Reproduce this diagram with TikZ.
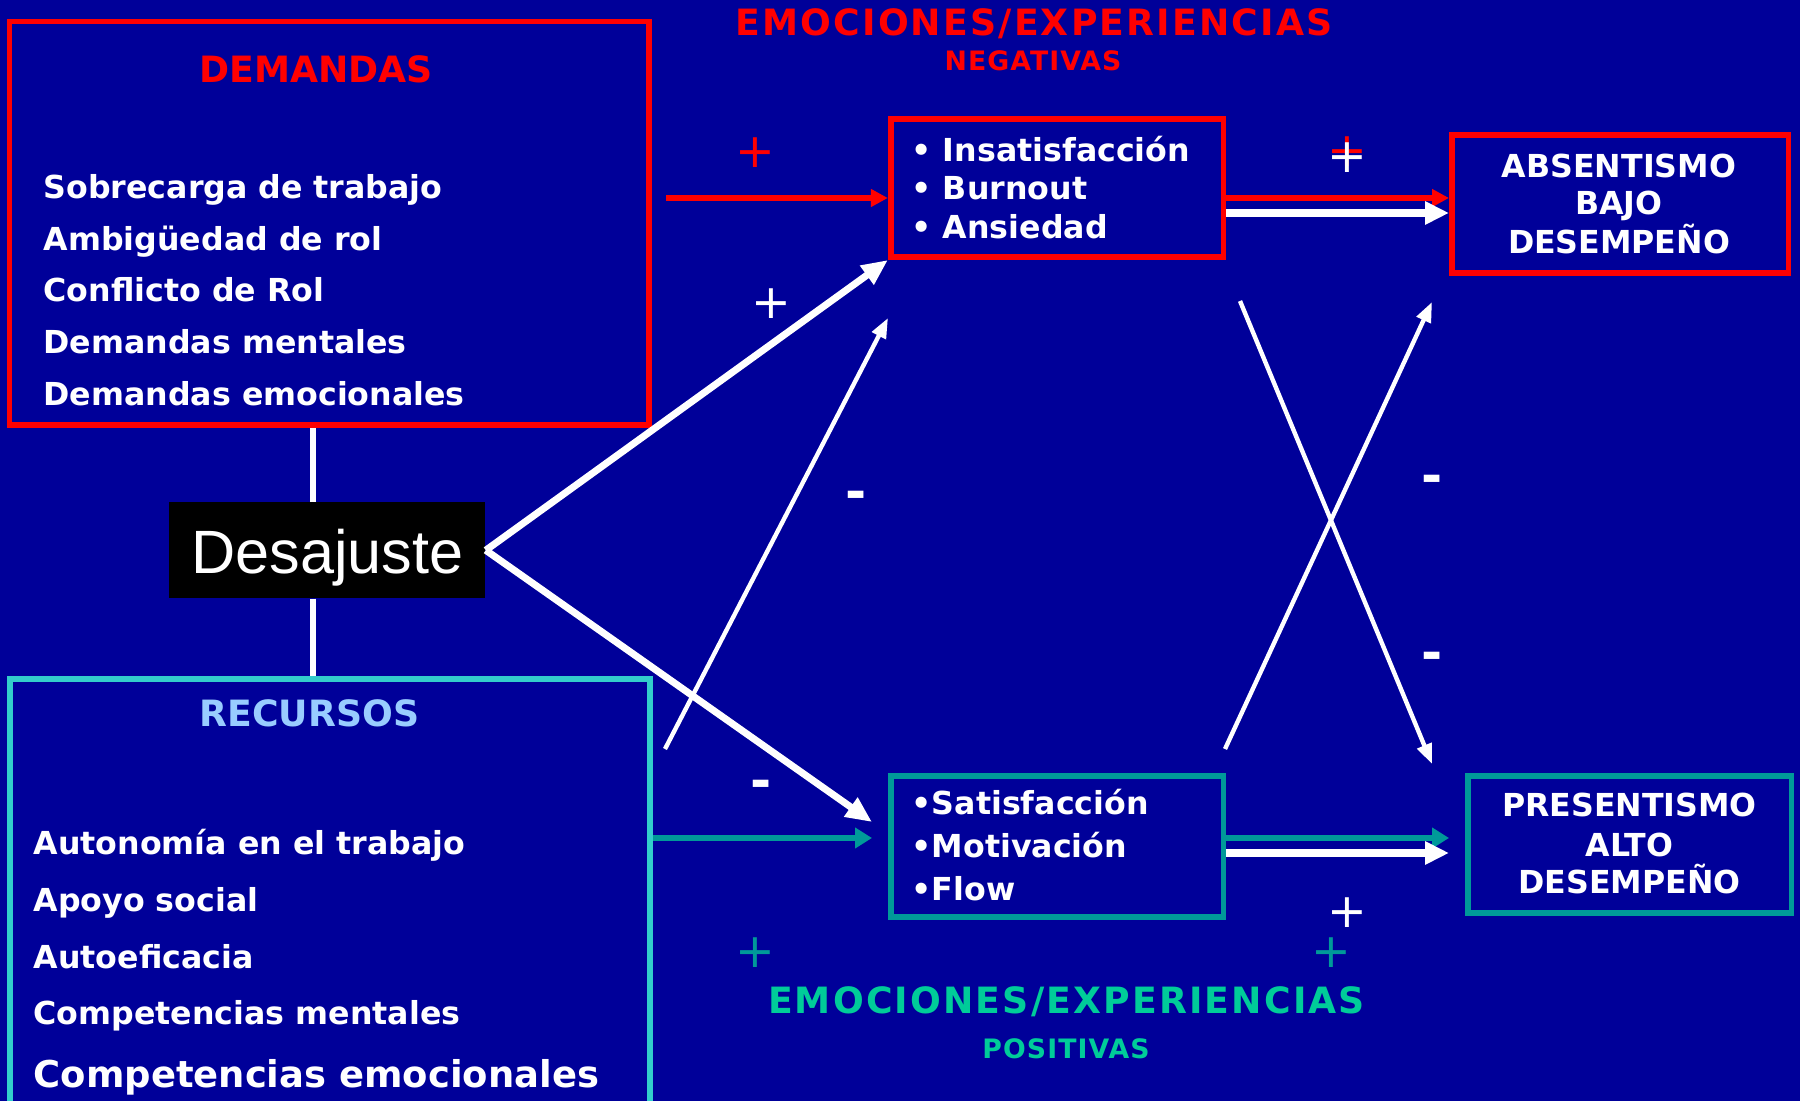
\documentclass[tikz,border=0pt]{standalone}
\usepackage{fontspec}
\setmainfont{DejaVu Sans}
\newfontfamily\desfont{Liberation Sans}
\usetikzlibrary{arrows.meta}
\definecolor{bg}{RGB}{0,0,153}
\definecolor{myred}{RGB}{255,0,0}
\definecolor{tealb}{RGB}{0,153,153}
\definecolor{cyanb}{RGB}{51,204,204}
\definecolor{greent}{RGB}{0,204,153}
\definecolor{ltblue}{RGB}{153,204,255}
\tikzset{
  redbox/.style={draw=myred, line width=1.6pt, inner sep=0pt},
  tealbox/.style={draw=tealb, line width=1.6pt, inner sep=0pt},
  cyanbox/.style={draw=cyanb, line width=1.6pt, inner sep=0pt},
  item/.style={anchor=base west, inner sep=0pt, text=white, font=\bfseries\fontsize{9}{11}\selectfont},
  bigitem/.style={anchor=base west, inner sep=0pt, text=white, font=\bfseries\fontsize{10.5}{12}\selectfont},
  ctr/.style={anchor=base, inner sep=0pt, text=white, font=\bfseries\fontsize{9}{11}\selectfont},
  boxtitle/.style={anchor=base, inner sep=0pt, font=\bfseries\fontsize{10.3}{12}\selectfont},
  bigtitle/.style={anchor=base, inner sep=0pt, font=\bfseries\fontsize{10.3}{12}\selectfont\addfontfeature{LetterSpace=6}},
  subtitle/.style={anchor=base, inner sep=0pt, font=\bfseries\fontsize{7.6}{9}\selectfont\addfontfeature{LetterSpace=4}},
  plussign/.style={anchor=north, inner sep=0pt, font=\fontsize{13.5}{14}\selectfont},
  minussign/.style={anchor=north, inner sep=0pt, text=white, font=\bfseries\fontsize{14.5}{15}\selectfont},
  vline/.style={draw=white, line width=1.7pt},
  redarrow/.style={draw=myred, line width=1.6pt, -{Triangle[length=0.17cm,width=0.17cm]}},
  tealarrow/.style={draw=tealb, line width=1.6pt, -{Triangle[length=0.17cm,width=0.2cm]}},
  whitearrow/.style={draw=white, line width=2.3pt, -{Triangle[length=0.24cm,width=0.22cm]}},
  fatarrow/.style={draw=white, line width=2pt, -{Triangle[length=0.26cm,width=0.22cm]}},
  thinarrow/.style={draw=white, line width=1.25pt, -{Triangle[length=0.2cm,width=0.15cm]}},
}
\begin{document}
\begin{tikzpicture}[x=0.01cm,y=-0.01cm]
\useasboundingbox (0,0) rectangle (1800,1101);
\clip (0,0) rectangle (1800,1101);
\fill[bg] (0,0) rectangle (1800,1101);

% boxes
\node[redbox, minimum width=6.39cm, minimum height=4.034cm] (dem) at (329.25,223.5) {};
\node[cyanbox, minimum width=6.40cm, minimum height=4.51cm] (rec) at (329.9,904.4) {};
\node[fill=black, inner sep=0pt, minimum width=3.16cm, minimum height=0.955cm] (des) at (327,550.25) {};
\node[redbox, minimum width=3.324cm, minimum height=1.384cm] (neg) at (1057,188) {};
\node[redbox, minimum width=3.364cm, minimum height=1.384cm] (abs) at (1620,204) {};
\node[tealbox, minimum width=3.324cm, minimum height=1.409cm] (pos) at (1057,846.25) {};
\node[tealbox, minimum width=3.234cm, minimum height=1.374cm] (pres) at (1629.5,844.5) {};

% coordinates
\coordinate (vx) at (313,0);
\coordinate (tipx) at (1449,0);
\coordinate (a1s) at (666,198);
\coordinate (r1s) at (653,838);
\coordinate (r1e) at (872,838);
\coordinate (d2e) at (872,822);
\coordinate (t1s) at (665,749);
\coordinate (t1e) at (888,318);
\coordinate (c1s) at (1240,301);
\coordinate (c1e) at (1432,764);
\coordinate (c2s) at (1225,749);
\coordinate (c2e) at (1432,302);
\coordinate (ny1) at (0,198);
\coordinate (ny2) at (0,213);
\coordinate (py1) at (0,838);
\coordinate (py2) at (0,853);

% vertical connectors
\draw[vline] (dem.south -| vx) -- (des.north -| vx);
\draw[vline] (des.south -| vx) -- (rec.north -| vx);

% arrows
\draw[redarrow] (a1s) -- (neg.west |- a1s);
\draw[redarrow] (neg.east |- ny1) -- (tipx |- ny1);
\draw[whitearrow] (neg.east |- ny2) -- (tipx |- ny2);
\draw[tealarrow] (rec.east |- r1s) -- (r1e);
\draw[tealarrow] (pos.east |- py1) -- (tipx |- py1);
\draw[whitearrow] (pos.east |- py2) -- (tipx |- py2);
\draw[fatarrow] (des.east) -- (neg.south west);
\draw[fatarrow] (des.east) -- (d2e);
\draw[thinarrow] (t1s) -- (t1e);
\draw[thinarrow] (c1s) -- (c1e);
\draw[thinarrow] (c2s) -- (c2e);

% texts
\node[boxtitle, text=myred] (demt) at (316,83) {DEMANDAS};
\node[item] (d1) at (43,198.5) {Sobrecarga de trabajo};
\node[item] (d2) at (43,250.3) {Ambigüedad de rol};
\node[item] (d3) at (43,302) {Conflicto de Rol};
\node[item] (d4) at (43,353.8) {Demandas mentales};
\node[item] (d5) at (43,405.5) {Demandas emocionales};

\node[anchor=base, inner sep=0pt, text=white, font=\desfont\fontsize{17.4}{20}\selectfont] (dest) at (327.5,574) {Desajuste};

\node[boxtitle, text=ltblue] (rect) at (309.5,727) {RECURSOS};
\node[item] (r1) at (33,854.5) {Autonomía en el trabajo};
\node[item] (r2) at (33,911.5) {Apoyo social};
\node[item] (r3) at (33,968.5) {Autoeficacia};
\node[item] (r4) at (33,1024.5) {Competencias mentales};
\node[bigitem] (r5) at (33,1087.5) {Competencias emocionales};

\node[bigtitle, text=myred] (tt) at (1034,36) {EMOCIONES/EXPERIENCIAS};
\node[subtitle, text=myred] (ts) at (1033,71) {NEGATIVAS};
\node[bigtitle, text=greent] (bt) at (1066.5,1014) {EMOCIONES/EXPERIENCIAS};
\node[subtitle, text=greent] (bs) at (1066,1058) {POSITIVAS};

\node[item] (n1) at (911,162) {• Insatisfacción};
\node[item] (n2) at (911,200) {• Burnout};
\node[item] (n3) at (911,239) {• Ansiedad};

\node[item] (p1) at (911,815) {•Satisfacción};
\node[item] (p2) at (911,858) {•Motivación};
\node[item] (p3) at (911,900) {•Flow};

\node[ctr] (a1) at (1619,178) {ABSENTISMO};
\node[ctr] (a2) at (1619,215) {BAJO};
\node[ctr] (a3) at (1619,254) {DESEMPEÑO};

\node[ctr] (q1) at (1629.5,817) {PRESENTISMO};
\node[ctr] (q2) at (1629.5,856.5) {ALTO};
\node[ctr] (q3) at (1629.5,894) {DESEMPEÑO};

% signs
\node[plussign, text=myred] (s1) at (755,137) {+};
\node[plussign, text=white] (s2) at (771.5,288) {+};
\node[plussign, text=myred] (s3) at (1347,136) {+};
\node[plussign, text=white] (s4) at (1347.5,142) {+};
\node[plussign, text=white] (s5) at (1347,897) {+};
\node[plussign, text=tealb] (s6) at (755,937) {+};
\node[plussign, text=tealb] (s7) at (1331,937) {+};
\node[minussign] (m1) at (856,491) {-};
\node[minussign] (m2) at (761,779) {-};
\node[minussign] (m3) at (1432,475) {-};
\node[minussign] (m4) at (1432,651) {-};
\end{tikzpicture}
\end{document}
